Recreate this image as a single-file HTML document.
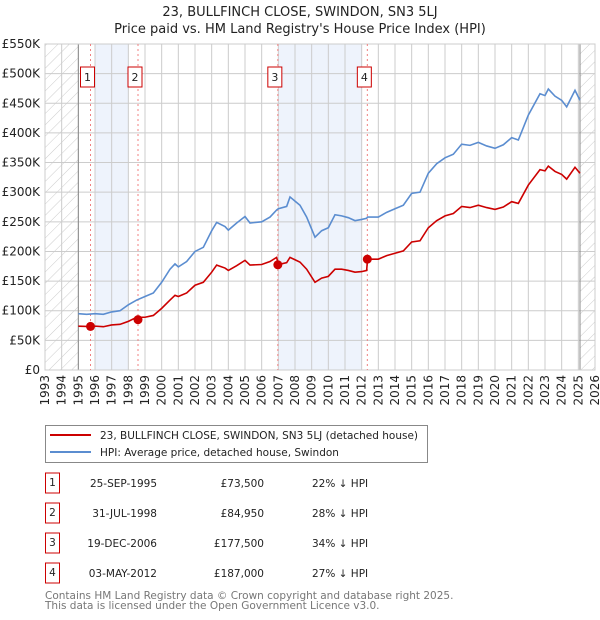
<!DOCTYPE html>
<html><head><meta charset="utf-8"><style>
body{margin:0;background:#fff;font-family:"DejaVu Sans","Liberation Sans",sans-serif;}
svg{display:block}
</style></head><body>
<svg id="chart" width="600" height="620" viewBox="0 0 600 620" xmlns="http://www.w3.org/2000/svg">
<defs><pattern id="hatch" width="8" height="8" patternUnits="userSpaceOnUse" patternTransform="rotate(45)"><line x1="0" y1="0" x2="0" y2="8" stroke="#ccc" stroke-width="1"/></pattern></defs>
<text x="300" y="16" text-anchor="middle" font-size="13" fill="#222">23, BULLFINCH CLOSE, SWINDON, SN3 5LJ</text>
<text x="300" y="33" text-anchor="middle" font-size="13" fill="#222">Price paid vs. HM Land Registry's House Price Index (HPI)</text>
<g id="plot"></g>
<g id="legend">
<rect x="45.5" y="425.5" width="382" height="37" fill="#fff" stroke="#888"/>
<line x1="50" y1="435" x2="91" y2="435" stroke="#cc0000" stroke-width="2"/>
<text x="100" y="439" font-size="10.5" fill="#222">23, BULLFINCH CLOSE, SWINDON, SN3 5LJ (detached house)</text>
<line x1="50" y1="452" x2="91" y2="452" stroke="#5b8dd0" stroke-width="2"/>
<text x="100" y="456" font-size="10.5" fill="#222">HPI: Average price, detached house, Swindon</text>
</g>
<g id="table" font-size="10.5" fill="#222"></g>
<text x="45" y="599" font-size="10.5" fill="#777">Contains HM Land Registry data © Crown copyright and database right 2025.</text>
<text x="45" y="609" font-size="10.5" fill="#777">This data is licensed under the Open Government Licence v3.0.</text>
</svg>
<script>
const hpiYears=[1995.0,1995.5,1996.0,1996.5,1997.0,1997.5,1998.0,1998.5,1999.0,1999.5,2000.0,2000.5,2000.8,2001.0,2001.5,2002.0,2002.5,2003.0,2003.3,2003.8,2004.0,2004.5,2005.0,2005.3,2006.0,2006.5,2006.9,2007.0,2007.5,2007.7,2008.0,2008.3,2008.7,2009.2,2009.6,2010.0,2010.4,2010.8,2011.2,2011.6,2012.0,2012.3,2012.35,2013.0,2013.5,2014.0,2014.5,2015.0,2015.5,2016.0,2016.5,2017.0,2017.5,2018.0,2018.5,2019.0,2019.5,2020.0,2020.5,2021.0,2021.4,2022.0,2022.7,2023.0,2023.2,2023.6,2024.0,2024.3,2024.8,2025.1];
const hpiValues=[95,94,95,94,98,100,110,118,124,130,148,170,179,174,183,200,207,235,249,242,236,248,259,248,250,258,270,272,276,292,285,278,258,224,235,240,262,260,257,252,254,256,258,258,266,272,278,298,300,332,348,358,364,381,379,384,378,374,380,392,388,430,466,463,474,462,455,444,472,455];
const priceValues=[74,73.5,74,73,76,77,82,89,89,92,104,118,126,124,130,143,148,165,177,172,168,176,185,177,178,183,190,178,181,190,186,182,170,148,155,158,170,170,168,165,166,168,187,187,193,197,201,216,218,240,252,260,264,276,274,278,274,271,275,284,281,312,338,336,344,335,330,322,342,332];
const saleLabels=["1","2","3","4"];
const saleYears=[1995.73,1998.58,2006.97,2012.34];
const salePrices=[73.5,84.95,177.5,187];
const saleDates=["25-SEP-1995","31-JUL-1998","19-DEC-2006","03-MAY-2012"];
const salePriceText=["£73,500","£84,950","£177,500","£187,000"];
const saleDiff=["22% ↓ HPI","28% ↓ HPI","34% ↓ HPI","27% ↓ HPI"];
const yTicks=[0,50,100,150,200,250,300,350,400,450,500,550];
const yTickLabels=["£0","£50K","£100K","£150K","£200K","£250K","£300K","£350K","£400K","£450K","£500K","£550K"];
const xTicks=[1993,1994,1995,1996,1997,1998,1999,2000,2001,2002,2003,2004,2005,2006,2007,2008,2009,2010,2011,2012,2013,2014,2015,2016,2017,2018,2019,2020,2021,2022,2023,2024,2025,2026];
const shadeBands=[[1996,1998],[2007,2012]];
const x0=45,x1=595,y0=370,y1=44,yr0=1993,yr1=2026,vmax=550;
const X=v=>x0+(v-yr0)/(yr1-yr0)*(x1-x0);
const Y=v=>y0-v/vmax*(y0-y1);
const NS="http://www.w3.org/2000/svg";
const plot=document.getElementById('plot');
function mk(tag,attrs,parent){const e=document.createElementNS(NS,tag);for(const k in attrs)e.setAttribute(k,attrs[k]);(parent||plot).appendChild(e);return e;}
shadeBands.forEach(b=>{const r=mk('rect',{x:X(b[0]),y:y1,width:X(b[1])-X(b[0]),height:y0-y1,fill:'#eef3fc'});

});
xTicks.forEach(t=>{const l=mk('line',{x1:X(t),x2:X(t),y1:y1,y2:y0,stroke:'#ccc','stroke-width':1});


const tx=mk('text',{x:0,y:0,'font-size':12,fill:'#222','text-anchor':'end',transform:`translate(${X(t)+4},375) rotate(-90)`});
tx.textContent=t;

});
yTicks.forEach((t,i)=>{const l=mk('line',{x1:x0,x2:x1,y1:Y(t),y2:Y(t),stroke:'#ccc','stroke-width':1});


const tx=mk('text',{x:40,y:Y(t)+4,'font-size':12,fill:'#222','text-anchor':'end'});
tx.textContent=yTickLabels[i];

});
const h1=mk('rect',{x:x0,y:y1,width:X(1995)-x0,height:y0-y1,fill:'url(#hatch)'});


const h2=mk('rect',{x:X(2025.1),y:y1,width:x1-X(2025.1),height:y0-y1,fill:'url(#hatch)'});


mk('line',{x1:X(1995),x2:X(1995),y1:y1,y2:y0,stroke:'#888'});
mk('line',{x1:X(2025.1),x2:X(2025.1),y1:y1,y2:y0,stroke:'#888'});
mk('rect',{x:x0,y:y1,width:x1-x0,height:y0-y1,fill:'none',stroke:'#ccc'});
saleYears.forEach((s,i)=>{const l=mk('line',{x1:X(s),x2:X(s),y1:y1,y2:y0,stroke:'#f08080','stroke-dasharray':'2,3'});


const b=mk('rect',{x:X(s)-10,y:67,width:14,height:20,fill:'#fff',stroke:'#cc0000'});


const t=mk('text',{x:X(s)-3,y:81,'font-size':11,fill:'#222','text-anchor':'middle'});
t.textContent=saleLabels[i];

});
const hp=mk('polyline',{points:hpiYears.map((y,i)=>X(y)+','+Y(hpiValues[i])).join(' '),fill:'none',stroke:'#5b8dd0','stroke-width':1.6});


const pp=mk('polyline',{points:hpiYears.map((y,i)=>X(y)+','+Y(priceValues[i])).join(' '),fill:'none',stroke:'#cc0000','stroke-width':1.6});


saleYears.forEach((s,i)=>{const c=mk('circle',{cx:X(s),cy:Y(salePrices[i]),r:4.5,fill:'#cc0000'});

});
const tb=document.getElementById('table');
saleLabels.forEach((lab,i)=>{const cy=483+30*i;
const b=mk('rect',{x:45.5,y:cy-10,width:14,height:20,fill:'#fff',stroke:'#cc0000'},tb);


const n=mk('text',{x:52.5,y:cy+3,'text-anchor':'middle'},tb);n.textContent=lab;


const d=mk('text',{x:157,y:cy+4,'text-anchor':'end'},tb);d.textContent=saleDates[i];


const p=mk('text',{x:264,y:cy+4,'text-anchor':'end'},tb);p.textContent=salePriceText[i];


const h=mk('text',{x:312,y:cy+4},tb);h.textContent=saleDiff[i];

});
</script>
</body></html>
